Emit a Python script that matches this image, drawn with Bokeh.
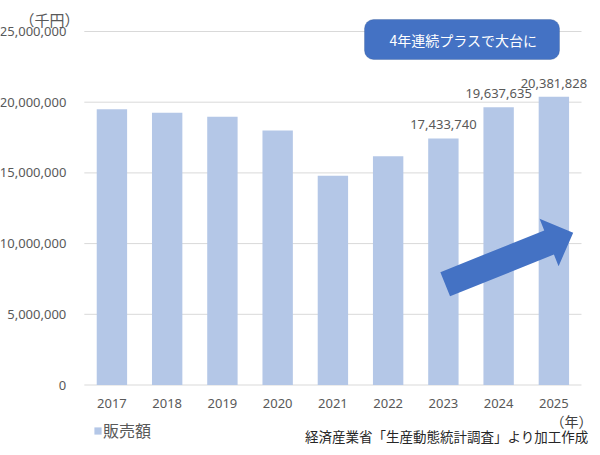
import math
from bokeh.plotting import figure
from bokeh.models import (Range1d, FixedTicker, NumeralTickFormatter, Label, LabelSet,
                          ColumnDataSource, BoxAnnotation, Legend, LegendItem, LinearAxis, Grid)
from bokeh.core.properties import value
from bokeh.embed import file_html
from bokeh.resources import INLINE

# ---- data ----
years = ["2017", "2018", "2019", "2020", "2021", "2022", "2023", "2024", "2025"]
sales = [19500000, 19250000, 18970000, 18000000, 14790000, 16180000, 17433740, 19637635, 20381828]
labelled = [False, False, False, False, False, False, True, True, True]
y_ticks = [0, 5000000, 10000000, 15000000, 20000000, 25000000]
series_name = "販売額"
unit_y = "（千円）"
unit_x = "（年）"
source_note = "経済産業省「生産動態統計調査」より加工作成"
callout = "4年連続プラスで大台に"

BAR = "#B4C7E7"
DARK = "#4472C4"
GRAY = "#595959"
LATIN = "Noto Sans"
CJK = "Noto Sans CJK JP"

# ---- layout (pixels) ----
W, H = 600, 455
PL, PR, PB, PT = 83.8, 581.0, 384.5, 31.0      # plot area edges
n = len(years)
cw = (PR - PL) / n                  # px per category
ppv = (PB - PT) / y_ticks[-1]       # px per value unit

def X(px):
    return (px - PL) / cw

def Y(py):
    return (PB - py) / ppv

p = figure(width=W, height=H, output_backend="svg", toolbar_location=None,
           x_range=Range1d(X(0), X(W)), y_range=Range1d(Y(H), Y(0)),
           x_axis_location=None, y_axis_location=None,
           min_border=0, min_border_left=0, min_border_right=0,
           min_border_top=0, min_border_bottom=0)
p.outline_line_color = None
p.background_fill_color = "white"
p.border_fill_color = "white"
for obj in list(p.center):
    if isinstance(obj, Grid):
        obj.visible = False
        obj.grid_line_color = None

xs = [i + 0.5 for i in range(n)]

# gridlines over the plot area
gsrc = ColumnDataSource(dict(y=y_ticks, x0=[0] * len(y_ticks), x1=[n] * len(y_ticks)))
p.segment(x0="x0", x1="x1", y0="y", y1="y", source=gsrc, line_color="#D9D9D9", line_width=1)

# bars
src = ColumnDataSource(dict(x=xs, top=sales))
r = p.vbar(x="x", top="top", width=0.55, source=src, fill_color=BAR, line_color=None)

# axes fixed at the plot area's edges
yaxis = LinearAxis(fixed_location=0, ticker=FixedTicker(ticks=y_ticks),
                   formatter=NumeralTickFormatter(format="0,0"))
yaxis.major_tick_line_color = None
yaxis.minor_tick_line_color = None
yaxis.axis_line_color = None
yaxis.major_label_text_font = LATIN
yaxis.major_label_text_font_size = "13px"
yaxis.major_label_text_color = GRAY
yaxis.major_label_standoff = 12
p.add_layout(yaxis, "left")

xaxis = LinearAxis(fixed_location=0, ticker=FixedTicker(ticks=xs))
xaxis.major_label_overrides = {x: y for x, y in zip(xs, years)}
xaxis.major_tick_line_color = None
xaxis.minor_tick_line_color = None
xaxis.axis_line_color = None
xaxis.major_label_text_font = LATIN
xaxis.major_label_text_font_size = "13px"
xaxis.major_label_text_color = GRAY
xaxis.major_label_standoff = 8
p.add_layout(xaxis, "below")

# data labels for the last three years
lsrc = ColumnDataSource(dict(x=[x for x, f in zip(xs, labelled) if f],
                             y=[v for v, f in zip(sales, labelled) if f],
                             t=[f"{v:,}" for v, f in zip(sales, labelled) if f]))
p.add_layout(LabelSet(x="x", y="y", text="t", source=lsrc, text_align="center",
                      text_baseline="alphabetic", y_offset=9, text_font=value(LATIN),
                      text_font_size=value("13px"), text_color=GRAY))

# callout box
p.add_layout(BoxAnnotation(left=X(364), right=X(559), top=Y(19), bottom=Y(59),
                           fill_color=DARK, fill_alpha=1.0, line_color="#2F528F",
                           line_width=1, border_radius=9))
p.add_layout(Label(x=X(462.8), y=Y(39.5), text=callout, text_align="center",
                   text_baseline="middle", text_font=CJK, text_font_size="14px",
                   text_color="white"))

# block arrow
sx0, sy0 = 444.7, 283.7     # tail centre (px)
sx1, sy1 = 572.7, 232.3     # tip (px)
shaft, head_w, head_l = 26, 51, 26
L = math.hypot(sx1 - sx0, sy1 - sy0)
ux, uy = (sx1 - sx0) / L, (sy1 - sy0) / L
nx, ny = -uy, ux
bx, by = sx1 - ux * head_l, sy1 - uy * head_l
pts = [
    (sx0 + nx * shaft / 2, sy0 + ny * shaft / 2),
    (bx + nx * shaft / 2, by + ny * shaft / 2),
    (bx + nx * head_w / 2, by + ny * head_w / 2),
    (sx1, sy1),
    (bx - nx * head_w / 2, by - ny * head_w / 2),
    (bx - nx * shaft / 2, by - ny * shaft / 2),
    (sx0 - nx * shaft / 2, sy0 - ny * shaft / 2),
]
p.patch([X(a) for a, b in pts], [Y(b) for a, b in pts], fill_color=DARK, line_color=None)

# unit labels and source note
p.add_layout(Label(x=X(79), y=Y(18.5), text=unit_y, text_align="right",
                   text_baseline="middle", text_font=CJK, text_font_size="15px",
                   text_color=GRAY))
p.add_layout(Label(x=X(592), y=Y(420), text=unit_x, text_align="right",
                   text_baseline="middle", text_font=CJK, text_font_size="14px",
                   text_color="#404040"))
p.add_layout(Label(x=X(588), y=Y(435.5), text=source_note, text_align="right",
                   text_baseline="middle", text_font=CJK, text_font_size="13.5px",
                   text_color="#262626"))

# legend
leg = Legend(items=[LegendItem(label=series_name, renderers=[r])],
             location=(93, 13), orientation="horizontal", padding=0, margin=0,
             spacing=0, border_line_color=None, background_fill_alpha=0,
             glyph_width=9, glyph_height=9, label_standoff=1,
             label_text_font=CJK, label_text_font_size="16px",
             label_text_color=GRAY, label_height=9)
p.add_layout(leg, "center")

open("out.html", "w").write(file_html(p, INLINE))
